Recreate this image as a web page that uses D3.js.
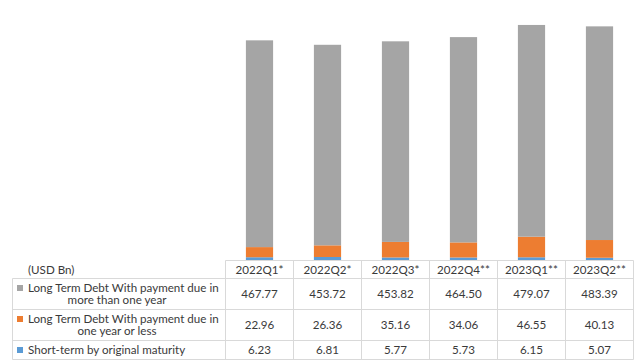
<!DOCTYPE html>
<html>
<head>
<meta charset="utf-8">
<script src="https://cdn.jsdelivr.net/npm/d3@7"></script>
<style>
  html, body { margin: 0; padding: 0; background: #fff; }
  svg { display: block; font-family: Lato, "Open Sans", sans-serif; }
</style>
</head>
<body>
<svg id="chart" width="640" height="362"></svg>
<script>
// Quarterly external debt, USD Bn
const quarters = ["2022Q1*", "2022Q2*", "2022Q3*", "2022Q4**", "2023Q1**", "2023Q2**"];
const longTermMoreThanYear = [467.77, 453.72, 453.82, 464.50, 479.07, 483.39];
const longTermYearOrLess = [22.96, 26.36, 35.16, 34.06, 46.55, 40.13];
const shortTermOriginal = [6.23, 6.81, 5.77, 5.73, 6.15, 5.07];

const seriesNames = [
  ["Long Term Debt With payment due in", "more than one year"],
  ["Long Term Debt With payment due in", "one year or less"],
  ["Short-term by original maturity"]
];
const seriesColors = ["#a5a5a5", "#ed7d31", "#5b9bd5"];
const unitLabel = "(USD Bn)";

const svg = d3.select("#chart");
const textColor = "#3a3a3a";
const gridColor = "#d9d9d9";

// table geometry
const tableLeft = 12.5, colLeft = 225.5, tableRight = 633.5;
const rowLines = [260.5, 278.5, 309.5, 340.5, 359.5];
const baseline = 260;

const x = d3.scaleBand().domain(quarters).range([colLeft, tableRight]).padding(0);
const y = d3.scaleLinear().domain([0, 600]).range([baseline, baseline - 600 * 0.442]);

// stacked bars: short-term at the bottom, then due within a year, then longer
const rows = quarters.map((q, i) => ({
  q,
  s: shortTermOriginal[i],
  o: longTermYearOrLess[i],
  l: longTermMoreThanYear[i]
}));
const stack = d3.stack().keys(["s", "o", "l"]);
const layers = stack(rows);
const layerColor = { s: seriesColors[2], o: seriesColors[1], l: seriesColors[0] };
const barW = x.bandwidth() * 0.4;

svg.append("g").selectAll("g").data(layers).join("g")
  .attr("fill", d => layerColor[d.key])
  .selectAll("rect").data(d => d).join("rect")
  .attr("x", d => x(d.data.q) + (x.bandwidth() - barW) / 2)
  .attr("width", barW)
  .attr("y", d => y(d[1]))
  .attr("height", d => y(d[0]) - y(d[1]));

// data table
const tg = svg.append("g").attr("stroke", gridColor).attr("stroke-width", 1);
tg.append("line").attr("x1", colLeft).attr("x2", tableRight).attr("y1", rowLines[0]).attr("y2", rowLines[0]);
for (let r = 1; r < rowLines.length; r++) {
  tg.append("line").attr("x1", tableLeft).attr("x2", tableRight).attr("y1", rowLines[r]).attr("y2", rowLines[r]);
}
tg.append("line").attr("x1", tableLeft).attr("x2", tableLeft).attr("y1", rowLines[1]).attr("y2", rowLines[4]);
quarters.forEach(q => {
  tg.append("line").attr("x1", x(q)).attr("x2", x(q)).attr("y1", rowLines[0]).attr("y2", rowLines[4]);
});
tg.append("line").attr("x1", tableRight).attr("x2", tableRight).attr("y1", rowLines[0]).attr("y2", rowLines[4]);

const fs = 11.6;
const txt = svg.append("g").attr("fill", textColor).attr("font-size", fs);

// header
txt.append("text").attr("x", 28).attr("y", (rowLines[0] + rowLines[1]) / 2 + 0.5).attr("dy", "0.35em").text(unitLabel);
quarters.forEach(q => {
  txt.append("text").attr("x", x(q) + x.bandwidth() / 2).attr("y", (rowLines[0] + rowLines[1]) / 2 + 0.5)
    .attr("dy", "0.35em").attr("text-anchor", "middle").text(q);
});

const tableValues = [longTermMoreThanYear, longTermYearOrLess, shortTermOriginal];
const keyX = 17, labelX = 28, wrapCenter = 117;
tableValues.forEach((vals, r) => {
  const top = rowLines[r + 1], bot = rowLines[r + 2];
  const mid = (top + bot) / 2;
  const lines = seriesNames[r];
  const lh = 12;
  const startY = mid - (lines.length - 1) * lh / 2;
  // legend key
  svg.append("rect").attr("x", keyX).attr("y", startY - 3).attr("width", 6).attr("height", 6)
    .attr("fill", seriesColors[r]);
  lines.forEach((ln, k) => {
    txt.append("text")
      .attr("x", k === 0 ? labelX : wrapCenter)
      .attr("text-anchor", k === 0 ? "start" : "middle")
      .attr("y", startY + k * lh)
      .attr("dy", "0.35em").text(ln);
  });
  vals.forEach((v, i) => {
    txt.append("text").attr("x", x(quarters[i]) + x.bandwidth() / 2).attr("y", mid)
      .attr("dy", "0.35em").attr("text-anchor", "middle").text(v.toFixed(2));
  });
});
</script>
</body>
</html>
